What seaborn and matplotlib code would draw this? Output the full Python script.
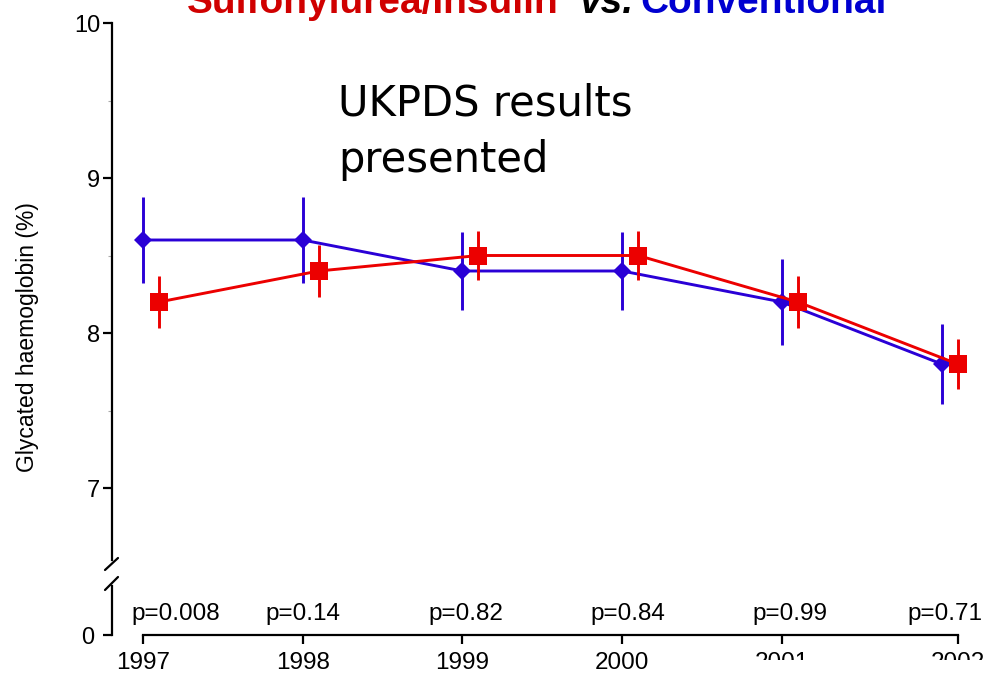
import matplotlib
matplotlib.use("Agg")
import matplotlib.pyplot as plt
from matplotlib.lines import Line2D
from matplotlib.patches import Rectangle
import seaborn as sns
import pandas as pd

# HbA1c by year, mean with error half-widths
years = [1997, 1998, 1999, 2000, 2001, 2002]
conventional = [8.6, 8.6, 8.4, 8.4, 8.2, 7.8]
conventional_err = [0.28, 0.28, 0.25, 0.25, 0.28, 0.26]
sulfonylurea_insulin = [8.2, 8.4, 8.5, 8.5, 8.2, 7.8]
sulfonylurea_insulin_err = [0.17, 0.17, 0.16, 0.16, 0.17, 0.16]
p_values = ["p=0.008", "p=0.14", "p=0.82", "p=0.84", "p=0.99", "p=0.71"]
year_labels = ["1997", "1998", "1999", "2000", "2001", "2002"]

RED = "#ec0000"
BLUE = "#2a00d6"
TITLE_RED = "#d00000"
TITLE_BLUE = "#0000d0"
SHIFT = 0.1  # horizontal dodge of the second group

sns.set_theme(style="white")
plt.rcParams["font.family"] = ["Liberation Sans", "DejaVu Sans"]
plt.rcParams.update({"text.color": "black", "axes.labelcolor": "black",
                     "xtick.color": "black", "ytick.color": "black"})

W, H = 988, 678
fig = plt.figure(figsize=(W / 100, H / 100), dpi=100)


def fx(px):
    return px / W


def fy(py):
    return 1 - py / H


x_left, x_right = 1996.806, 2002.29
ax = fig.add_axes([fx(112), fy(575), fx(876), (575 - 23) / H])
axl = fig.add_axes([fx(112), fy(635), fx(876), (635 - 575) / H])

df = pd.DataFrame({
    "year": years + [y + SHIFT for y in years],
    "hba1c": conventional + sulfonylurea_insulin,
    "group": ["Conventional"] * len(years) + ["Sulfonylurea/Insulin"] * len(years),
})

# error bars underneath, then lines and markers
ax.errorbar(years, conventional, yerr=conventional_err, fmt="none",
            ecolor=BLUE, elinewidth=2.1, capsize=0, zorder=2)
sns.lineplot(data=df[df.group == "Conventional"], x="year", y="hba1c", ax=ax,
             color=BLUE, lw=2.1, marker="D", markersize=9.5, mew=0, zorder=3,
             legend=False)
ax.errorbar([y + SHIFT for y in years], sulfonylurea_insulin,
            yerr=sulfonylurea_insulin_err, fmt="none",
            ecolor=RED, elinewidth=2.1, capsize=0, zorder=4)
sns.lineplot(data=df[df.group == "Sulfonylurea/Insulin"], x="year", y="hba1c",
             ax=ax, color=RED, lw=2.1, marker="s", markersize=12.5, mew=0,
             zorder=5, legend=False)

# upper (broken) panel
ax.set_xlim(x_left, x_right)
ax.set_ylim(10 - (575 - 23) / 155, 10)
ax.set_yticks([7, 8, 9, 10])
ax.set_yticklabels(["7", "8", "9", "10"])
ax.set_yticks([7.5, 8.5, 9.5], minor=True)
ax.set_xticks([])
ax.set_xlabel("")
ax.set_ylabel("Glycated haemoglobin (%)", fontsize=16.5, va="center", ha="center",
              color="black")
ax.yaxis.set_label_coords((27 - 112) / 876, (575 - 337) / 552)
for s in ["top", "right", "bottom"]:
    ax.spines[s].set_visible(False)
ax.spines["left"].set_color("black")
ax.spines["left"].set_linewidth(1.6)
ax.spines["left"].set_bounds(10 - (560 - 23) / 155, 10)
ax.tick_params(axis="y", which="major", direction="out", length=6.5, width=1.6,
               color="black", labelcolor="black", pad=2, labelsize=17, left=True)
ax.tick_params(axis="y", which="minor", direction="out", length=3, width=0.8,
               color="#aaaaaa", left=True)
ax.patch.set_alpha(0)

# lower panel: zero level, x axis and p-values
axl.set_xlim(x_left, x_right)
axl.set_ylim(0, 1)
axl.set_yticks([0])
axl.set_yticklabels(["0"])
tick_pos = years[:-1] + [years[-1] + SHIFT]
axl.set_xticks(tick_pos)
axl.set_xticklabels(year_labels)
for s in ["top", "right"]:
    axl.spines[s].set_visible(False)
for s in ["left", "bottom"]:
    axl.spines[s].set_color("black")
    axl.spines[s].set_linewidth(1.6)
axl.spines["left"].set_bounds(0, (635 - 586) / 60)
axl.spines["bottom"].set_bounds(years[0], years[-1] + SHIFT)
axl.tick_params(axis="y", direction="out", length=6.5, width=1.6, color="black",
                labelcolor="black", pad=6, labelsize=17, left=True)
axl.tick_params(axis="x", direction="out", length=6.5, width=1.6, color="black",
                labelcolor="black", pad=6, labelsize=17.5, bottom=True)
axl.patch.set_alpha(0)

p_offsets = [33, 0, 3, 6, 8, 3]
for yr, txt, off in zip(years, p_values, p_offsets):
    axl.annotate(txt, xy=(yr, 0.25), xytext=(off * 0.72, 0),
                 textcoords="offset points", ha="center", va="baseline",
                 fontsize=17.5, color="black")

# axis break marks
for (x0, y0, x1, y1) in [(105, 570, 118, 558), (105, 590, 118, 577)]:
    fig.add_artist(Line2D([fx(x0), fx(x1)], [fy(y0), fy(y1)],
                          transform=fig.transFigure, color="black", lw=1.6))

# title (runs off the top edge)
title_kw = dict(fontsize=28, fontweight="bold", va="baseline", ha="left",
                transform=fig.transFigure)
fig.text(fx(187), fy(13), "Sulfonylurea/Insulin", color=TITLE_RED, **title_kw)
fig.text(fx(580), fy(13), "vs.", color="black", style="italic", **title_kw)
fig.text(fx(640), fy(13), "Conventional", color=TITLE_BLUE, **title_kw)

# annotation
fig.text(fx(338), fy(115), "UKPDS results", fontsize=30, family="DejaVu Sans",
         va="baseline", ha="left", color="black")
fig.text(fx(338), fy(172), "presented", fontsize=30, family="DejaVu Sans",
         va="baseline", ha="left", color="black")

# lower-right strip hidden by the slide layout
fig.add_artist(Rectangle((fx(700), 0), fx(288), 18 / H, transform=fig.transFigure,
                         facecolor="white", edgecolor="none", zorder=10))

fig.savefig("out.png", dpi=100)
